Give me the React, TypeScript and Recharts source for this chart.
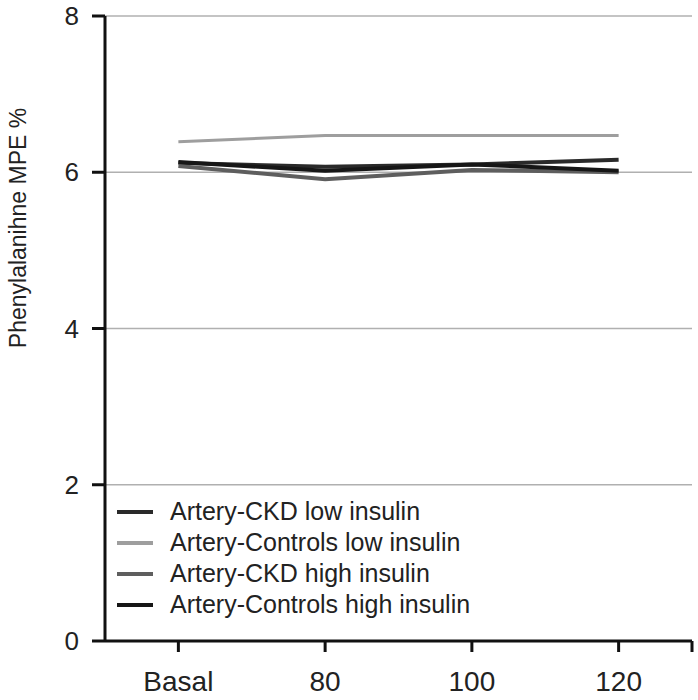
import { LineChart, Line, XAxis, YAxis, CartesianGrid } from "recharts";

const timepoints = ["Basal", "80", "100", "120"];
const ckdLow = [6.12, 6.07, 6.1, 6.16];
const controlsLow = [6.39, 6.47, 6.47, 6.47];
const ckdHigh = [6.08, 5.91, 6.03, 6.0];
const controlsHigh = [6.13, 6.02, 6.1, 6.02];
const yTicks = [0, 2, 4, 6, 8];

const series = [
  { key: "ckdLow", name: "Artery-CKD low insulin", color: "#2a2a2a", width: 4 },
  { key: "controlsLow", name: "Artery-Controls low insulin", color: "#9e9e9e", width: 3 },
  { key: "ckdHigh", name: "Artery-CKD high insulin", color: "#5e5e5e", width: 4 },
  { key: "controlsHigh", name: "Artery-Controls high insulin", color: "#161616", width: 4 },
];

// numeric x so the axis can carry a closing tick at the right end
const data = timepoints.map((t, i) => ({
  x: i + 0.5,
  label: t,
  ckdLow: ckdLow[i],
  controlsLow: controlsLow[i],
  ckdHigh: ckdHigh[i],
  controlsHigh: controlsHigh[i],
}));

const font = "'Liberation Sans', Arial, sans-serif";

function YLabel(props: any) {
  const vb = props.viewBox || { x: 0, y: 0 };
  const x = 26;
  const y = vb.y + 212;
  return (
    <text x={x} y={y} transform={`rotate(-90, ${x}, ${y})`} textAnchor="middle"
      style={{ fontSize: 23, fill: "#222", fontFamily: font }}>
      Phenylalanihne MPE %
    </text>
  );
}

export default function App() {
  return (
    <div style={{ position: "absolute", left: 0, top: 0, width: 698, height: 700, background: "#fff" }}>
      <LineChart width={698} height={700} data={data} margin={{ top: 16, right: 6, bottom: 0, left: 0 }}>
        <CartesianGrid horizontal vertical={false} stroke="#b0b0b0" strokeWidth={1.5} />
        <XAxis
          dataKey="x"
          type="number"
          domain={[0, 4]}
          ticks={[0.5, 1.5, 2.5, 3.5, 4]}
          tickFormatter={(v: number) => timepoints[Math.floor(v)] ?? ""}
          height={59}
          stroke="#111"
          strokeWidth={3}
          tickSize={11}
          tickMargin={19}
          tick={{ fontSize: 28, fill: "#222", fontFamily: font }}
        />
        <YAxis
          domain={[0, 8]}
          ticks={yTicks}
          width={105}
          stroke="#111"
          strokeWidth={3}
          tickSize={13}
          tickMargin={13}
          tick={{ fontSize: 26, fill: "#222", fontFamily: font }}
          label={<YLabel />}
        />
        {series.map((s) => (
          <Line
            key={s.key}
            dataKey={s.key}
            name={s.name}
            stroke={s.color}
            strokeWidth={s.width}
            dot={false}
            type="linear"
            isAnimationActive={false}
          />
        ))}
      </LineChart>
      <div style={{ position: "absolute", left: 117, top: 496, fontFamily: font, fontSize: 25, color: "#222", lineHeight: "31px" }}>
        {series.map((s) => (
          <div key={s.key} style={{ display: "flex", alignItems: "center" }}>
            <span style={{ display: "inline-block", width: 36, height: 4, background: s.color, marginRight: 17 }} />
            <span>{s.name}</span>
          </div>
        ))}
      </div>
    </div>
  );
}
